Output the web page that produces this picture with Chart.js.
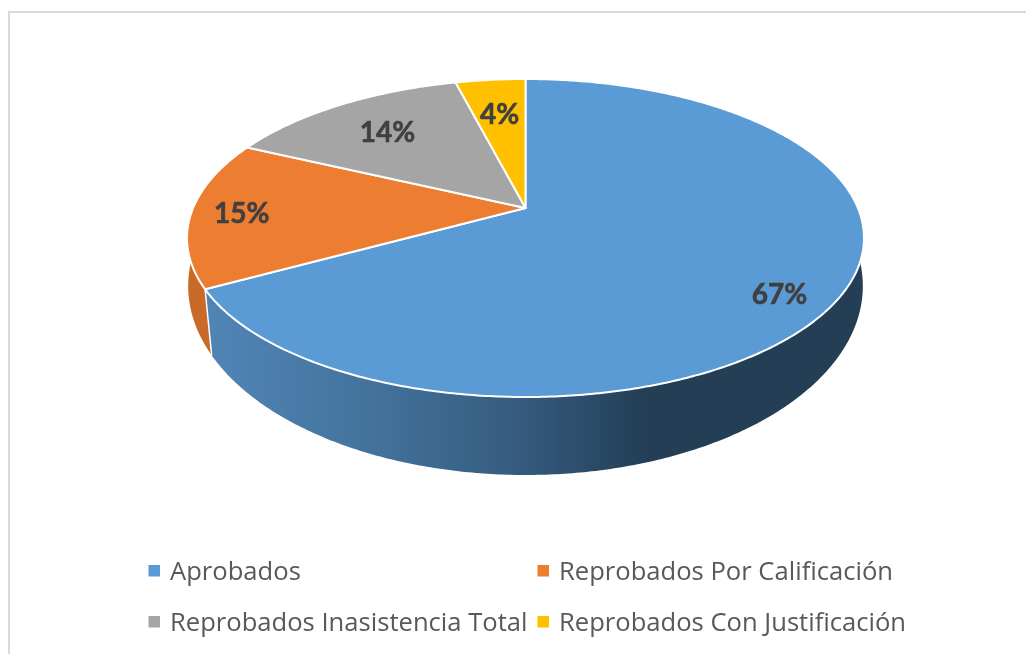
<!DOCTYPE html>
<html>
<head>
<meta charset="utf-8">
<title>Pie</title>
<script src="https://cdn.jsdelivr.net/npm/chart.js@4"></script>
<style>
    html, body { margin: 0; padding: 0; background: #fff; }
    canvas { display: block; }
</style>
</head>
<body>
<canvas id="pie" width="1026" height="654"></canvas>
<script>
const categories = ['Aprobados', 'Reprobados Por Calificación', 'Reprobados Inasistencia Total', 'Reprobados Con Justificación'];
const percents = [67, 15, 14, 4];
const sliceColors = ['#5b9bd5', '#ed7d31', '#a5a5a5', '#ffc000'];

// Perspective of the tilted disc: unit circle -> screen, top rim and bottom rim
const topRim = { cx: 525.5, a: 114.1, b: 208, k: -0.1887, A: 332.4 };
const bottomRim = { cx: 525.5, a: 148.95, b: 259.55, k: -0.14, A: 334 };

// Label placement: fraction of radius and small angle nudge (degrees) per slice
const labelRadius = [0.855, 0.85, 0.72, 0.7];
const labelNudge = [5.4, 0, 0, 0];

// Legend layout
const legendCols = [148.5, 537.5];
const legendRows = [580, 631];

function project(rim, angle, r = 1) {
    const u = r * Math.cos(angle);
    const v = r * Math.sin(angle);
    const d = 1 + rim.k * v;
    return { x: rim.cx + rim.A * u / d, y: (rim.a * v + rim.b) / d };
}

function traceRim(ctx, rim, from, to, first) {
    const steps = Math.max(2, Math.ceil(Math.abs(to - from) / 0.01));
    for (let i = 0; i <= steps; i++) {
        const p = project(rim, from + (to - from) * i / steps);
        if (i === 0 && first) ctx.moveTo(p.x, p.y);
        else ctx.lineTo(p.x, p.y);
    }
}

function wallFill(ctx, index) {
    if (index === 0) {
        const g = ctx.createLinearGradient(187, 0, 864, 0);
        g.addColorStop(0, '#5287b9');
        g.addColorStop(0.25, '#44759f');
        g.addColorStop(0.5, '#355a7d');
        g.addColorStop(0.68, '#233e55');
        g.addColorStop(1, '#233e55');
        return g;
    }
    return ['', '#c96a28', '#8c8c8c', '#d9a300'][index];
}

const pie3d = {
    id: 'pie3d',
    beforeDraw(chart) {
        const ctx = chart.ctx;
        ctx.save();
        ctx.strokeStyle = '#d9d9d9';
        ctx.lineWidth = 2;
        ctx.beginPath();
        ctx.moveTo(9, 654);
        ctx.lineTo(9, 12);
        ctx.lineTo(1026, 12);
        ctx.stroke();
        ctx.restore();
    },
    beforeDatasetsDraw(chart) {
        const ctx = chart.ctx;
        const arcs = chart.getDatasetMeta(0).data;
        ctx.save();

        // Side walls, back slices first
        for (let i = arcs.length - 1; i >= 0; i--) {
            const arc = arcs[i];
            ctx.beginPath();
            traceRim(ctx, topRim, arc.startAngle, arc.endAngle, true);
            traceRim(ctx, bottomRim, arc.endAngle, arc.startAngle, false);
            ctx.closePath();
            ctx.fillStyle = wallFill(ctx, i);
            ctx.fill();
        }

        // White seam where the first slice wall meets the second
        const seamTop = project(topRim, arcs[0].endAngle);
        const seamBottom = project(bottomRim, arcs[0].endAngle);
        ctx.strokeStyle = '#ffffff';
        ctx.lineWidth = 1.5;
        ctx.beginPath();
        ctx.moveTo(seamTop.x, seamTop.y);
        ctx.lineTo(seamBottom.x, seamBottom.y);
        ctx.stroke();

        // Top faces
        ctx.lineJoin = 'round';
        arcs.forEach((arc, i) => {
            const apex = project(topRim, 0, 0);
            ctx.beginPath();
            ctx.moveTo(apex.x, apex.y);
            traceRim(ctx, topRim, arc.startAngle, arc.endAngle, false);
            ctx.closePath();
            ctx.fillStyle = sliceColors[i];
            ctx.fill();
            ctx.strokeStyle = '#ffffff';
            ctx.lineWidth = 2;
            ctx.stroke();
        });

        // Percent labels
        ctx.fillStyle = '#404040';
        ctx.strokeStyle = '#404040';
        ctx.lineWidth = 0.6;
        ctx.font = 'bold 28px Lato';
        ctx.textAlign = 'center';
        ctx.textBaseline = 'middle';
        arcs.forEach((arc, i) => {
            const mid = (arc.startAngle + arc.endAngle) / 2 + labelNudge[i] * Math.PI / 180;
            const p = project(topRim, mid, labelRadius[i]);
            ctx.fillText(percents[i] + '%', p.x, p.y + 1.5);
            ctx.strokeText(percents[i] + '%', p.x, p.y + 1.5);
        });

        // Legend, two aligned columns
        ctx.font = '25.6px "Open Sans"';
        ctx.textAlign = 'left';
        ctx.textBaseline = 'alphabetic';
        categories.forEach((name, i) => {
            const x = legendCols[i % 2];
            const y = legendRows[Math.floor(i / 2)];
            ctx.fillStyle = sliceColors[i];
            ctx.fillRect(x, y - 15, 11.5, 11.5);
            ctx.fillStyle = '#595959';
            ctx.fillText(name, x + 21.5, y);
        });

        ctx.restore();
        return false;
    }
};

new Chart(document.getElementById('pie'), {
    type: 'pie',
    data: {
        labels: categories,
        datasets: [{ data: percents, backgroundColor: sliceColors, borderColor: '#ffffff' }]
    },
    options: {
        responsive: false,
        animation: false,
        plugins: {
            legend: { display: false },
            tooltip: { enabled: false }
        }
    },
    plugins: [pie3d]
});
</script>
</body>
</html>
